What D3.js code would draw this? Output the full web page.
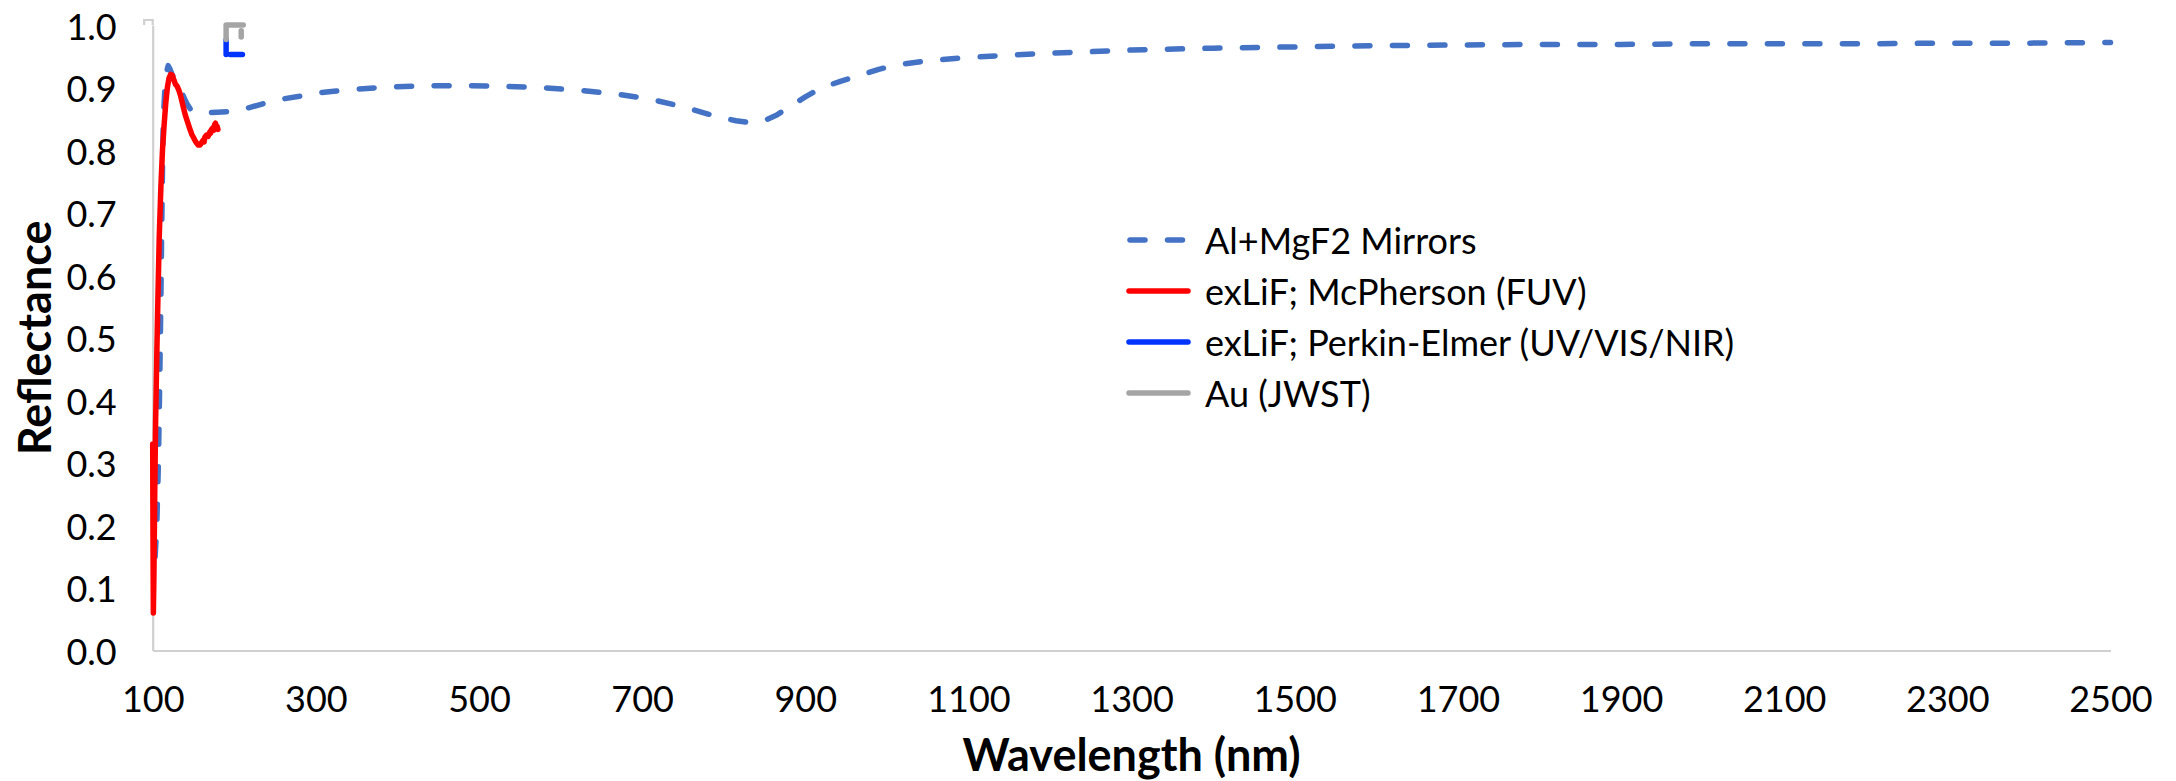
<!DOCTYPE html>
<html>
<head>
<meta charset="utf-8">
<script src="https://cdn.jsdelivr.net/npm/d3@7"></script>
<style>
  html, body { margin: 0; padding: 0; background: #ffffff; }
  svg { display: block; }
</style>
</head>
<body>
<svg id="chart" width="2176" height="781"></svg>
<script>
// ---------------- DATA ----------------
const xTicks = [100, 300, 500, 700, 900, 1100, 1300, 1500, 1700, 1900, 2100, 2300, 2500];
const yTicks = [0, 0.1, 0.2, 0.3, 0.4, 0.5, 0.6, 0.7, 0.8, 0.9, 1.0];

const seriesNames = ["Al+MgF2 Mirrors", "exLiF; McPherson (FUV)", "exLiF; Perkin-Elmer (UV/VIS/NIR)", "Au (JWST)"];

// Al+MgF2 Mirrors (dashed)
const alWl = [103, 105, 107, 108.5, 110, 111, 112, 113, 115, 117, 119, 121, 124, 130, 134, 138, 142, 146, 150, 155, 170, 185, 200, 213, 235, 256, 280, 300, 322, 344, 367, 390, 437, 484, 530, 574, 618, 661, 708, 751, 793, 815, 831, 848, 865, 880, 900, 919, 943, 968, 990, 1011, 1050, 1100, 1150, 1200, 1300, 1400, 1500, 1600, 1700, 1800, 1900, 2000, 2100, 2200, 2300, 2400, 2500];
const alR  = [0.15, 0.2, 0.3, 0.42, 0.56, 0.67, 0.77, 0.85, 0.9, 0.925, 0.935, 0.93, 0.92, 0.91, 0.898, 0.885, 0.874, 0.866, 0.862, 0.86, 0.86, 0.861, 0.862, 0.866, 0.874, 0.881, 0.886, 0.891, 0.894, 0.897, 0.899, 0.901, 0.903, 0.903, 0.902, 0.9, 0.896, 0.891, 0.882, 0.869, 0.853, 0.847, 0.844, 0.846, 0.856, 0.869, 0.885, 0.899, 0.91, 0.92, 0.929, 0.936, 0.943, 0.948, 0.952, 0.955, 0.96, 0.963, 0.965, 0.967, 0.968, 0.969, 0.969, 0.970, 0.970, 0.970, 0.971, 0.971, 0.972];

// exLiF; McPherson (FUV)
const mcWl = [100.0, 100.3, 100.8, 101.5, 102.5, 103.5, 105, 106.5, 108, 110, 112, 114, 116, 118, 120, 122, 124, 126, 128, 130, 132, 134, 136, 138, 140, 142, 144, 146, 148, 150, 152, 154, 156, 158, 160, 162, 163, 164, 166, 168, 170, 171, 172, 174, 175, 176, 177, 178, 179, 180];
const mcR  = [0.33, 0.20, 0.06, 0.12, 0.25, 0.36, 0.47, 0.57, 0.66, 0.74, 0.80, 0.84, 0.875, 0.90, 0.915, 0.921, 0.920, 0.912, 0.905, 0.902, 0.896, 0.888, 0.877, 0.866, 0.856, 0.848, 0.840, 0.832, 0.825, 0.820, 0.815, 0.811, 0.808, 0.808, 0.812, 0.816, 0.813, 0.821, 0.824, 0.822, 0.829, 0.827, 0.833, 0.836, 0.832, 0.841, 0.843, 0.836, 0.838, 0.833];

// exLiF; Perkin-Elmer (UV/VIS/NIR)  (null = gap)
const peWl = [190, 190, null, 195, 210];
const peR  = [0.976, 0.953, null, 0.953, 0.953];

// Au (JWST)  (null = gap)
const auWl = [190, 190, 211, null, 208.5, 208.5];
const auR  = [0.977, 1.0, 1.0, null, 0.991, 0.981];

const seriesColors = ["#4472C4", "#FF0000", "#0033FF", "#A5A5A5"];

// ---------------- LAYOUT ----------------
const svg = d3.select("#chart");
const plot = { left: 152.7, right: 2110.5, top: 25, bottom: 650.5 };

const x = d3.scaleLinear().domain([100, 2500]).range([plot.left, plot.right]);
const y = d3.scaleLinear().domain([0, 1]).range([plot.bottom, plot.top]);

const FONT = "Lato, 'Open Sans', 'DejaVu Sans', sans-serif";
const axisColor = "#D0D0D0";
const TICK_FS = 36;

// axes lines (no tick marks)
const gx = svg.append("g").attr("transform", `translate(0,${plot.bottom})`)
  .call(d3.axisBottom(x).tickValues(xTicks).tickSize(0).tickFormat(d3.format("d")));
gx.select(".domain").attr("stroke", axisColor).attr("stroke-width", 2.2);
gx.selectAll("text").attr("font-family", FONT).attr("font-size", TICK_FS).attr("fill", "#000")
  .attr("dy", null).attr("dominant-baseline", "central").attr("y", 47);

const gy = svg.append("g").attr("transform", `translate(${plot.left},0)`)
  .call(d3.axisLeft(y).tickValues(yTicks).tickSize(0).tickPadding(36).tickFormat(d3.format(".1f")));
gy.select(".domain").attr("stroke", axisColor).attr("stroke-width", 2.2);
gy.selectAll("text").attr("font-family", FONT).attr("font-size", TICK_FS).attr("fill", "#000")
  .attr("dy", null).attr("dominant-baseline", "central");

// small hook at top of y axis
svg.append("path")
  .attr("d", `M${plot.left},${plot.top} L${plot.left},${plot.top - 5} L${plot.left - 8.5},${plot.top - 5} L${plot.left - 8.5},${plot.top}`)
  .attr("fill", "none").attr("stroke", axisColor).attr("stroke-width", 2.2);

// ---------------- SERIES ----------------
const toPts = (wl, r) => wl.map((w, i) => (w == null ? null : { w, r: r[i] }));
const line = d3.line().defined(d => d != null).x(d => x(d.w)).y(d => y(d.r)).curve(d3.curveLinear);

const series = [
  { pts: toPts(alWl, alR), color: seriesColors[0], dash: "15,22.5" },
  { pts: toPts(mcWl, mcR), color: seriesColors[1], dash: null },
  { pts: toPts(peWl, peR), color: seriesColors[2], dash: null },
  { pts: toPts(auWl, auR), color: seriesColors[3], dash: null }
];

series.forEach(s => {
  svg.append("path")
    .datum(s.pts)
    .attr("d", line)
    .attr("fill", "none")
    .attr("stroke", s.color)
    .attr("stroke-width", 5.5)
    .attr("stroke-linecap", "round")
    .attr("stroke-linejoin", "round")
    .attr("stroke-dasharray", s.dash);
});

// ---------------- LEGEND ----------------
const legend = svg.append("g");
const legY0 = 240, legDy = 51;
seriesNames.forEach((name, i) => {
  const ly = legY0 + i * legDy;
  legend.append("line")
    .attr("x1", i === 0 ? 1130 : 1129).attr("x2", 1188)
    .attr("y1", ly).attr("y2", ly)
    .attr("stroke", seriesColors[i])
    .attr("stroke-width", 5.5)
    .attr("stroke-linecap", "round")
    .attr("stroke-dasharray", i === 0 ? "15,22.5" : null);
  legend.append("text")
    .attr("x", 1205).attr("y", ly)
    .attr("dominant-baseline", "central")
    .attr("font-family", FONT).attr("font-size", 36).attr("fill", "#000")
    .text(name);
});

// ---------------- TITLES ----------------
svg.append("text")
  .attr("x", (plot.left + plot.right) / 2).attr("y", 771)
  .attr("text-anchor", "middle")
  .attr("font-family", FONT).attr("font-weight", "bold").attr("font-size", 45).attr("fill", "#000")
  .text("Wavelength (nm)");

svg.append("text")
  .attr("transform", `translate(34,${(plot.top + plot.bottom) / 2}) rotate(-90)`)
  .attr("text-anchor", "middle").attr("dominant-baseline", "central")
  .attr("font-family", FONT).attr("font-weight", "bold").attr("font-size", 45).attr("fill", "#000")
  .text("Reflectance");
</script>
</body>
</html>
